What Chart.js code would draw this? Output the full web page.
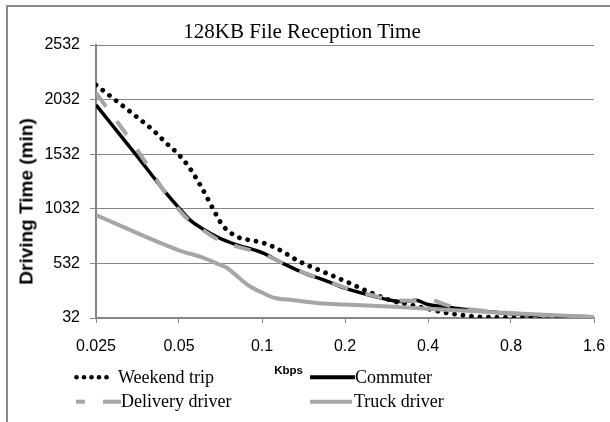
<!DOCTYPE html>
<html>
<head>
<meta charset="utf-8">
<script src="https://cdn.jsdelivr.net/npm/chart.js@4.4.1/dist/chart.umd.min.js"></script>
<style>
  html, body { margin: 0; padding: 0; background: #fff; }
  #wrap { position: relative; width: 610px; height: 422px; overflow: hidden; background: #fff; }
  #frame { position: absolute; left: 6px; top: 5px; right: -4px; bottom: -4px;
           border-left: 2px solid #8a8a8a; border-top: 2px solid #8a8a8a; }
  #cbox { position: absolute; left: 0; top: 0; width: 610px; height: 422px; }
  .txt { position: absolute; white-space: nowrap; color: #000; }
  #title { left: 0; width: 604px; top: 21.4px; text-align: center;
           font: 21px/21px "Liberation Serif", serif; }
  #ytitle { left: 26px; top: 201.5px; width: 220px; height: 19px; margin-left: -110px; margin-top: -9.5px;
            text-align: center; font: bold 19px/19px "Liberation Sans", sans-serif;
            transform: rotate(-90deg); }
  #xtitle { left: 238.5px; width: 100px; top: 364.5px; text-align: center;
            font: bold 11.5px/11px "Liberation Sans", sans-serif; }
  .lg { font: 18px/18px "Liberation Serif", serif; }
  #samples { position: absolute; left: 0; top: 0; }
</style>
</head>
<body>
<div id="wrap">
  <div id="frame"></div>
  <div id="cbox"><canvas id="c" width="610" height="422"></canvas></div>
  <div id="title" class="txt">128KB File Reception Time</div>
  <div id="ytitle" class="txt">Driving Time (min)</div>
  <div id="xtitle" class="txt">Kbps</div>
  <svg id="samples" width="610" height="422">
    <g fill="#000">
      <circle cx="76.5" cy="377.3" r="2.3"/><circle cx="84" cy="377.3" r="2.3"/>
      <circle cx="91.5" cy="377.3" r="2.3"/><circle cx="99" cy="377.3" r="2.3"/>
      <circle cx="106.5" cy="377.3" r="2.3"/>
    </g>
    <line x1="310" y1="377.3" x2="355" y2="377.3" stroke="#000" stroke-width="4"/>
    <line x1="76" y1="401.7" x2="85" y2="401.7" stroke="#a6a6a6" stroke-width="4"/>
    <line x1="103" y1="401.7" x2="121" y2="401.7" stroke="#a6a6a6" stroke-width="4"/>
    <line x1="310" y1="401.7" x2="352" y2="401.7" stroke="#a6a6a6" stroke-width="4"/>
  </svg>
  <div class="txt lg" style="left:118px;top:368px">Weekend trip</div>
  <div class="txt lg" style="left:355px;top:368px">Commuter</div>
  <div class="txt lg" style="left:121px;top:392px">Delivery driver</div>
  <div class="txt lg" style="left:354px;top:392px">Truck driver</div>
</div>
<script>
// Tick labels
const xTicks = [0.025, 0.05, 0.1, 0.2, 0.4, 0.8, 1.6];
const yTicks = [32, 532, 1032, 1532, 2032, 2532];

// Series (Kbps -> driving time in minutes)
const weekendX = [0.025, 0.03, 0.035, 0.04, 0.045, 0.05, 0.055, 0.06, 0.066, 0.072, 0.08, 0.09, 0.1, 0.115, 0.135, 0.16, 0.2, 0.25, 0.3, 0.35, 0.4, 0.47, 0.6, 0.8, 1.6];
const weekendY = [2166, 2010, 1877, 1758, 1633, 1525, 1396, 1240, 1045, 880, 785, 745, 724, 660, 556, 474, 370, 260, 185, 150, 115, 78, 45, 36, 32];

const commuterX = [0.025, 0.035, 0.045, 0.05, 0.055, 0.06, 0.07, 0.08, 0.1, 0.12, 0.14, 0.17, 0.2, 0.25, 0.3, 0.33, 0.36, 0.4, 0.45, 0.5, 0.6, 0.8, 1.0, 1.6];
const commuterY = [1983, 1524, 1173, 1040, 926, 859, 765, 707, 630, 528, 450, 375, 305, 235, 190, 182, 195, 155, 137, 122, 100, 72, 57, 41];

const deliveryX = [0.025, 0.035, 0.045, 0.05, 0.055, 0.06, 0.07, 0.08, 0.1, 0.12, 0.14, 0.17, 0.2, 0.25, 0.3, 0.35, 0.4, 0.45, 0.5, 0.6, 0.8, 1.0, 1.6];
const deliveryY = [2092, 1585, 1165, 1022, 914, 850, 743, 692, 620, 530, 452, 378, 310, 240, 195, 190, 205, 165, 130, 105, 76, 60, 41];

const truckX = [0.025, 0.05, 0.06, 0.07, 0.075, 0.08, 0.09, 0.1, 0.11, 0.13, 0.16, 0.2, 0.3, 0.4, 0.6, 0.8, 1.6];
const truckY = [975, 652, 591, 522, 488, 429, 325, 265, 219, 195, 168, 155, 135, 116, 93, 75, 41];

const pts = (xs, ys) => xs.map((x, i) => ({ x: x, y: ys[i] }));
const GRAY = '#a6a6a6';
const AXIS = '#868686';

new Chart(document.getElementById('c'), {
  type: 'line',
  data: {
    datasets: [
      { label: 'Weekend trip', data: pts(weekendX, weekendY), borderColor: '#000', borderWidth: 4.8,
        borderDash: [0.01, 8.5], borderCapStyle: 'round', order: 4 },
      { label: 'Commuter', data: pts(commuterX, commuterY), borderColor: '#000', borderWidth: 3.5, order: 3 },
      { label: 'Delivery driver', data: pts(deliveryX, deliveryY), borderColor: GRAY, borderWidth: 4,
        borderDash: [17, 18], borderCapStyle: 'butt', order: 2 },
      { label: 'Truck driver', data: pts(truckX, truckY), borderColor: GRAY, borderWidth: 4, order: 1 }
    ]
  },
  options: {
    responsive: false,
    animation: false,
    devicePixelRatio: 1,
    layout: { padding: { top: 45, right: 16, bottom: 47, left: 0 } },
    elements: {
      point: { radius: 0, hoverRadius: 0 },
      line: { cubicInterpolationMode: 'monotone', fill: false }
    },
    plugins: { legend: { display: false }, title: { display: false }, tooltip: { enabled: false } },
    events: [],
    scales: {
      x: {
        type: 'logarithmic',
        min: 0.025, max: 1.6,
        afterBuildTicks: s => { s.ticks = xTicks.map(v => ({ value: v })); },
        afterFit: s => { s.height = 57; },
        ticks: {
          autoSkip: false, maxRotation: 0, minRotation: 0, padding: 0,
          color: '#000', font: { family: 'Liberation Sans', size: 16, lineHeight: '48px' },
          callback: (v, i) => String(xTicks[i])
        },
        grid: { drawOnChartArea: false, drawTicks: true, tickLength: 5, color: AXIS, lineWidth: 1 },
        border: { display: true, color: AXIS, width: 1.5 }
      },
      y: {
        type: 'linear',
        min: 32, max: 2532,
        afterBuildTicks: s => { s.ticks = yTicks.map(v => ({ value: v })); },
        afterFit: s => { s.width = 96; },
        ticks: { padding: 10, color: '#000', font: { family: 'Liberation Sans', size: 16 },
                 callback: (v, i) => String(yTicks[i]) },
        grid: { drawTicks: true, tickLength: 6, color: AXIS, lineWidth: 1 },
        border: { display: true, color: AXIS, width: 2 }
      }
    }
  }
});
</script>
</body>
</html>
